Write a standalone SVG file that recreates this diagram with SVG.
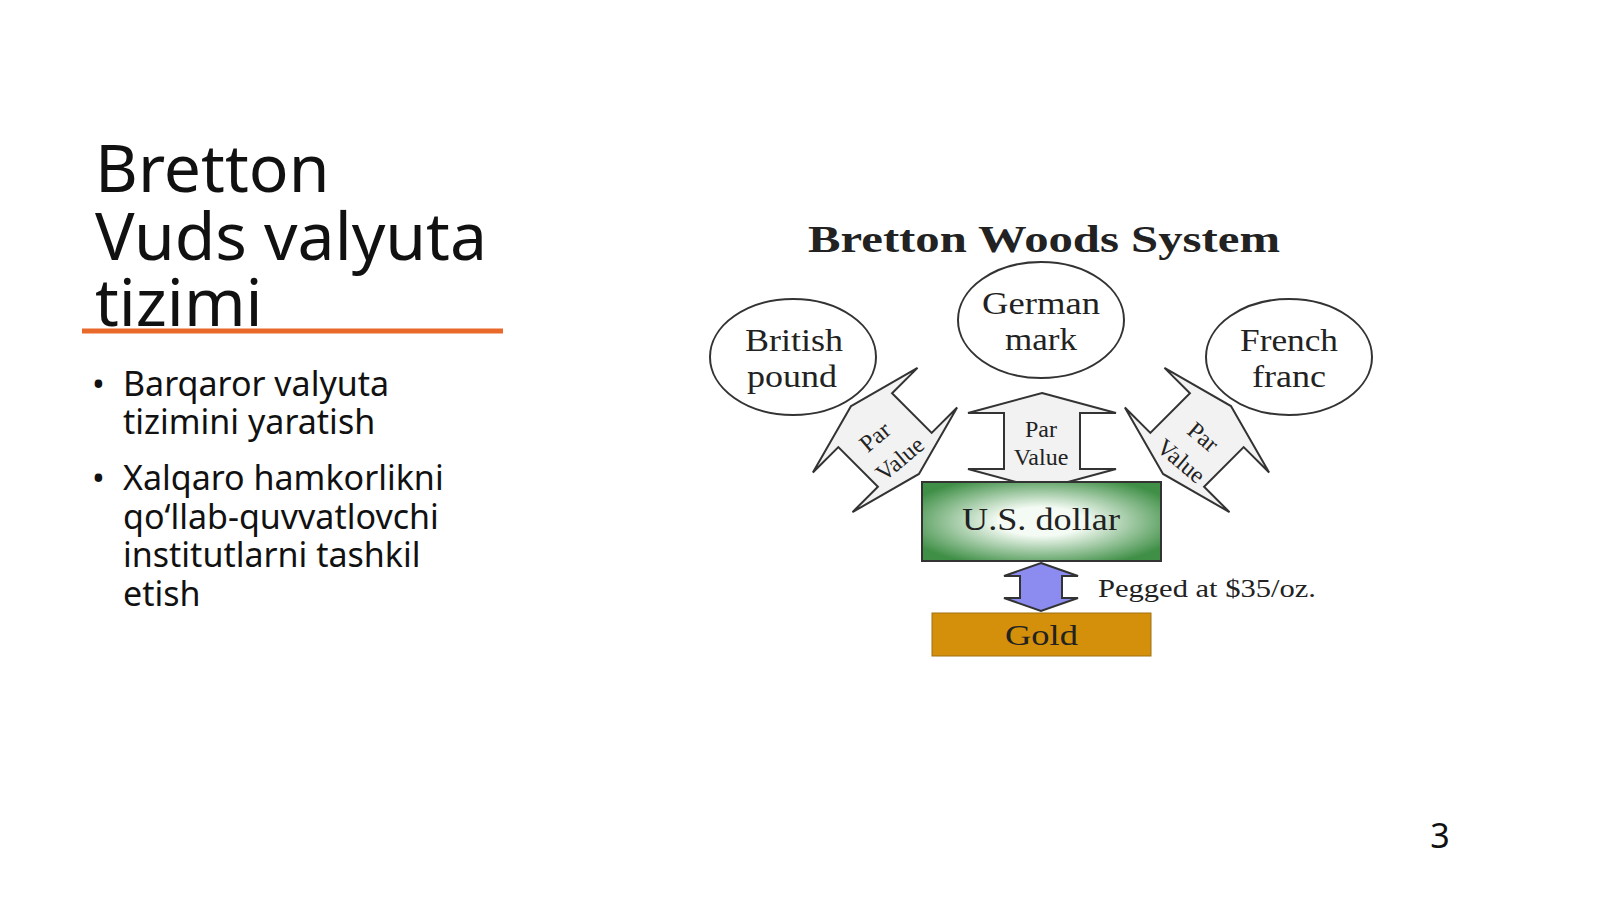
<svg xmlns="http://www.w3.org/2000/svg" width="1600" height="899" viewBox="0 0 1600 899">
<style>
.h{font-family:"Noto Sans","Open Sans",sans-serif;font-size:66px;fill:#111}
.b{font-family:"Noto Sans","Open Sans",sans-serif;font-size:34px;fill:#111}
.s{font-family:"Liberation Serif",serif;fill:#222}
.ol{fill:#fff;stroke:#333;stroke-width:2}
.ar{fill:#f2f2f2;stroke:#333;stroke-width:2}
</style>
<defs>
<radialGradient id="g" cx="0.5" cy="0.5" r="0.6"><stop offset="0.3" stop-color="#f4fbf4"/><stop offset="1" stop-color="#3f8f46"/></radialGradient>
<path id="da" d="M0,-48 L74,-28 L38,-28 L38,28 L74,28 L0,48 L-74,28 L-38,28 L-38,-28 L-74,-28 Z"/>
</defs>
<rect width="1600" height="899" fill="#fff"/>
<text class="h" x="95" y="192">Bretton</text>
<text class="h" x="95" y="260">Vuds valyuta</text>
<text class="h" x="95" y="326">tizimi</text>
<line x1="82" y1="331" x2="503" y2="331" stroke="#e8692a" stroke-width="5"/>
<g class="b">
<text x="92" y="396">•</text><text x="123" y="396">Barqaror valyuta</text>
<text x="123" y="434">tizimini yaratish</text>
<text x="92" y="490">•</text><text x="123" y="490">Xalqaro hamkorlikni</text>
<text x="123" y="529">qo‘llab-quvvatlovchi</text>
<text x="123" y="567">institutlarni tashkil</text>
<text x="123" y="606">etish</text>
</g>
<text class="b" x="1440" y="848" font-size="24" text-anchor="middle">3</text>
<text class="s" x="808" y="252" font-size="38" font-weight="bold" textLength="472" lengthAdjust="spacingAndGlyphs">Bretton Woods System</text>
<g id="british"><ellipse class="ol" cx="793" cy="357" rx="83" ry="58"/><text class="s" font-size="31" lengthAdjust="spacingAndGlyphs"><tspan x="745" y="351" textLength="98" lengthAdjust="spacingAndGlyphs">British</tspan><tspan x="747" y="387" textLength="90" lengthAdjust="spacingAndGlyphs">pound</tspan></text></g>
<g id="german"><ellipse class="ol" cx="1041" cy="320" rx="83" ry="58"/><text class="s" font-size="31"><tspan x="982" y="314" textLength="118" lengthAdjust="spacingAndGlyphs">German</tspan><tspan x="1005" y="350" textLength="72" lengthAdjust="spacingAndGlyphs">mark</tspan></text></g>
<g id="french"><ellipse class="ol" cx="1289" cy="357" rx="83" ry="58"/><text class="s" font-size="31"><tspan x="1240" y="351" textLength="98" lengthAdjust="spacingAndGlyphs">French</tspan><tspan x="1252" y="387" textLength="74" lengthAdjust="spacingAndGlyphs">franc</tspan></text></g>
<g id="connectors">
<use href="#da" class="ar" transform="translate(885,440) rotate(-45)"/>
<use href="#da" class="ar" transform="translate(1042,441)"/>
<use href="#da" class="ar" transform="translate(1197,440) rotate(45)"/>
<g class="s" font-size="24" text-anchor="middle">
<text transform="translate(880,443) rotate(-40)">Par</text>
<text transform="translate(905,465) rotate(-40)">Value</text>
<text x="1041" y="437">Par</text><text x="1041" y="465">Value</text>
<text transform="translate(1198,443) rotate(40)">Par</text>
<text transform="translate(1176,467) rotate(40)">Value</text>
</g>
<path d="M1041,563 L1078,576 L1062,576 L1062,598 L1078,598 L1041,611 L1004,598 L1020,598 L1020,576 L1004,576 Z" fill="#8c8cf0" stroke="#333" stroke-width="2"/>
</g>
<g id="dollar"><rect x="922" y="482" width="239" height="79" fill="url(#g)" stroke="#333" stroke-width="2"/><text class="s" x="962" y="530" font-size="32" textLength="158" lengthAdjust="spacingAndGlyphs">U.S. dollar</text></g>
<g id="gold"><rect x="932" y="613" width="219" height="43" fill="#d4900a" stroke="#a07010" stroke-width="1"/><text class="s" x="1005" y="645" font-size="30" textLength="73" lengthAdjust="spacingAndGlyphs">Gold</text></g>
<text class="s" x="1098" y="597" font-size="25" textLength="218" lengthAdjust="spacingAndGlyphs">Pegged at $35/oz.</text>
</svg>
